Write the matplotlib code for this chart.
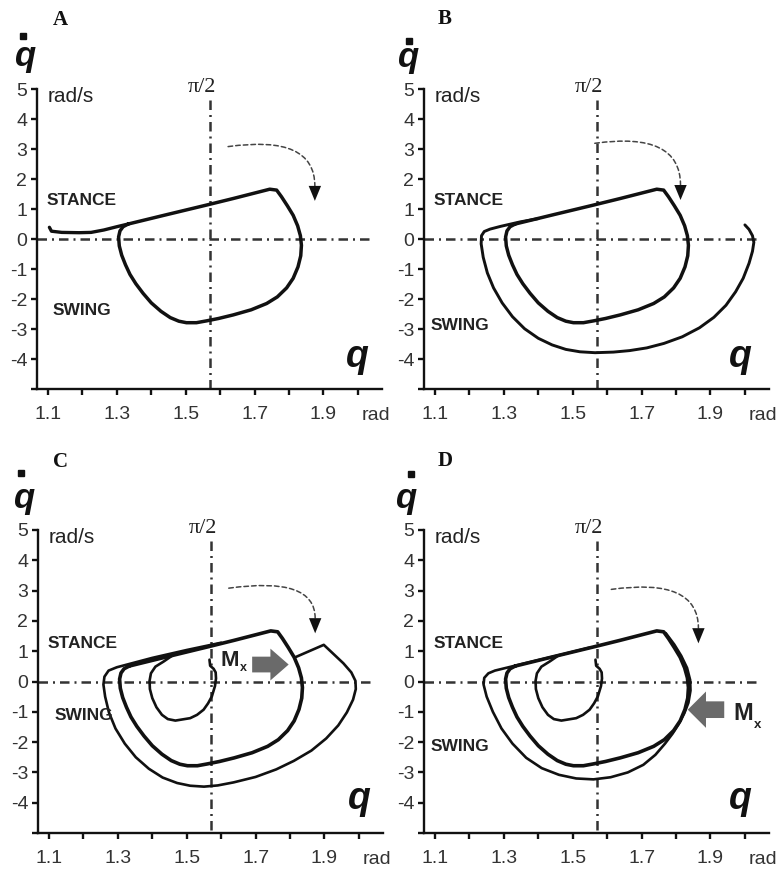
import numpy as np
import matplotlib
matplotlib.use('Agg')
import matplotlib.pyplot as plt
import matplotlib.patches as mpatches
from matplotlib.lines import Line2D

plt.rcParams['font.family'] = ['Liberation Sans', 'DejaVu Sans']

# limit cycle (the thick loop), the same in all four panels
limit_q = [1.333, 1.444, 1.560, 1.638, 1.744, 1.764, 1.778, 1.795, 1.812, 1.825,
           1.833, 1.836, 1.834, 1.826, 1.812, 1.793, 1.766, 1.735, 1.690, 1.638,
           1.595, 1.560, 1.531, 1.502, 1.480, 1.455, 1.428, 1.400, 1.376, 1.355,
           1.338, 1.325, 1.314, 1.307, 1.305, 1.309, 1.318, 1.333]
limit_dq = [0.51, 0.82, 1.14, 1.36, 1.67, 1.64, 1.42, 1.12, 0.80, 0.45,
            0.12, -0.20, -0.55, -0.92, -1.30, -1.62, -1.92, -2.14, -2.35, -2.52,
            -2.64, -2.72, -2.78, -2.78, -2.73, -2.61, -2.40, -2.12, -1.80, -1.48,
            -1.17, -0.85, -0.53, -0.22, 0.08, 0.28, 0.42, 0.51]

# panel A: approach from the left
a_q = [1.104, 1.110, 1.140, 1.190, 1.225, 1.262, 1.300, 1.333]
a_dq = [0.40, 0.27, 0.23, 0.22, 0.23, 0.31, 0.42, 0.51]

# panel B: large outer loop converging to the cycle
b_q = [2.000, 2.012, 2.022, 2.026, 2.022, 2.012, 1.995, 1.973, 1.945, 1.910,
       1.868, 1.818, 1.765, 1.715, 1.665, 1.618, 1.565, 1.521, 1.480, 1.440,
       1.400, 1.360, 1.325, 1.295, 1.270, 1.252, 1.240, 1.234, 1.235, 1.243,
       1.260, 1.290, 1.347, 1.400]
b_dq = [0.48, 0.33, 0.12, -0.10, -0.40, -0.80, -1.30, -1.75, -2.20, -2.60,
        -2.95, -3.25, -3.47, -3.62, -3.71, -3.76, -3.78, -3.75, -3.67, -3.52,
        -3.30, -2.98, -2.58, -2.12, -1.62, -1.12, -0.60, -0.15, 0.12, 0.26,
        0.34, 0.43, 0.58, 0.69]

# panels C and D: start near pi/2 (small loop)
start_q = [1.566, 1.568, 1.578, 1.584, 1.585, 1.582, 1.573, 1.562, 1.549, 1.530,
           1.510, 1.467, 1.445, 1.428, 1.412, 1.400, 1.393, 1.392, 1.396, 1.409,
           1.433, 1.460]
start_dq = [0.72, 0.52, 0.42, 0.30, 0.10, -0.15, -0.49, -0.72, -0.93, -1.10,
            -1.21, -1.29, -1.24, -1.10, -0.85, -0.55, -0.25, 0.02, 0.27, 0.49,
            0.66, 0.87]

# panel C: perturbed loop (positive Mx)
c_q = [1.815, 1.898, 1.927, 1.955, 1.978, 1.990, 1.991, 1.983, 1.965, 1.940,
       1.905, 1.862, 1.811, 1.760, 1.700, 1.636, 1.590, 1.550, 1.510, 1.472,
       1.430, 1.390, 1.352, 1.320, 1.293, 1.274, 1.263, 1.258, 1.261, 1.273,
       1.297, 1.400, 1.500, 1.600]
c_dq = [0.80, 1.21, 0.90, 0.60, 0.30, 0.02, -0.25, -0.60, -1.02, -1.45,
        -1.88, -2.28, -2.62, -2.90, -3.15, -3.33, -3.43, -3.47, -3.44, -3.35,
        -3.17, -2.88, -2.50, -2.05, -1.55, -1.02, -0.50, -0.10, 0.16, 0.36,
        0.47, 0.78, 1.04, 1.28]

# panel D: perturbed loop (negative Mx)
d_q = [1.770, 1.795, 1.815, 1.832, 1.841, 1.842, 1.836, 1.824, 1.808, 1.790,
       1.768, 1.740, 1.705, 1.660, 1.610, 1.560, 1.510, 1.460, 1.410, 1.365,
       1.325, 1.293, 1.268, 1.250, 1.241, 1.243, 1.255, 1.274, 1.350, 1.450,
       1.550]
d_dq = [1.60, 1.22, 0.85, 0.45, 0.05, -0.30, -0.70, -1.05, -1.40, -1.72,
        -2.05, -2.42, -2.75, -3.00, -3.16, -3.23, -3.20, -3.08, -2.86, -2.52,
        -2.05, -1.55, -1.00, -0.50, -0.10, 0.12, 0.27, 0.36, 0.57, 0.84,
        1.12]

x_ticks = [1.1, 1.2, 1.3, 1.4, 1.5, 1.6, 1.7, 1.8, 1.9, 2.0]
x_labels = ['1.1', '', '1.3', '', '1.5', '', '1.7', '', '1.9', '']
y_ticks = [-5, -4, -3, -2, -1, 0, 1, 2, 3, 4, 5]
y_labels = ['', '-4', '-3', '-2', '-1', '0', '1', '2', '3', '4', '5']

W, H = 778, 869
fig = plt.figure(figsize=(W / 100, H / 100), dpi=100)
INK = '#111111'


def fig_text(px, py, s, **kw):
    fig.text(px / W, 1 - py / H, s, **kw)


def setup(ax):
    ax.set_xlim(1.068, 2.07)
    ax.set_ylim(-5, 5)
    ax.patch.set_visible(False)
    for s in ['top', 'right']:
        ax.spines[s].set_visible(False)
    for s in ['left', 'bottom']:
        ax.spines[s].set_linewidth(1.7)
        ax.spines[s].set_color(INK)
    ax.set_xticks(x_ticks)
    ax.set_xticklabels(x_labels)
    ax.set_yticks(y_ticks)
    ax.set_yticklabels(y_labels)
    ax.tick_params(axis='x', length=4, width=1.7, pad=8, labelsize=14,
                   color=INK, labelcolor='#333333')
    ax.tick_params(axis='y', length=4, width=1.7, pad=3, labelsize=14,
                   color=INK, labelcolor='#333333')
    dashdot = (0, (3.8, 2, 0.8, 2))
    ax.plot([1.068, 2.04], [0, 0], ls=dashdot, lw=1.8, color='#333333', zorder=1)
    ax.plot([np.pi / 2, np.pi / 2], [4.65, -5], ls=dashdot, lw=1.8,
            color='#333333', zorder=1)
    ax.text(1.548, 4.9, 'π/2', family='Liberation Serif', fontsize=16,
            ha='center', va='baseline', color='#222222', clip_on=False)
    ax.text(1.099, 4.58, 'rad/s', fontsize=15, ha='left', va='baseline',
            color='#222222')
    ax.text(2.011, -6.02, 'rad', fontsize=14, ha='left', va='baseline',
            color='#333333', clip_on=False)


def turn_arrow(ax, start, tip):
    top = (tip[0], tip[1] + 0.5)
    arc = mpatches.FancyArrowPatch(start, top, arrowstyle='-',
                                   connectionstyle='angle3,angleA=8,angleB=90',
                                   ls=(0, (3, 2)), lw=1.1, color='#444444',
                                   shrinkA=0, shrinkB=0)
    ax.add_patch(arc)
    head = mpatches.Polygon([(tip[0] - 0.018, top[1]), (tip[0] + 0.018, top[1]),
                             tip], closed=True, color=INK, lw=0)
    ax.add_patch(head)


def trace(ax, q, dq, lw):
    ax.plot(q, dq, color=INK, lw=lw, solid_joinstyle='round',
            solid_capstyle='round', zorder=3)


def phase_labels(ax, stance, swing):
    ax.text(stance[0], stance[1], 'STANCE', fontsize=12.5, weight='bold',
            color='#222222')
    ax.text(swing[0], swing[1], 'SWING', fontsize=12.5, weight='bold',
            color='#222222')


axes_pos = {'A': [37 / W, 1 - 389.3 / H, 345 / W, 300 / H],
            'B': [424 / W, 1 - 389.3 / H, 345 / W, 300 / H],
            'C': [38 / W, 1 - 833 / H, 345 / W, 303 / H],
            'D': [424 / W, 1 - 833 / H, 345 / W, 303 / H]}
axs = {k: fig.add_axes(v) for k, v in axes_pos.items()}
for ax in axs.values():
    setup(ax)

# panel A
ax = axs['A']
trace(ax, a_q, a_dq, 2.4)
trace(ax, limit_q, limit_dq, 2.5)
turn_arrow(ax, (1.623, 3.09), (1.875, 1.28))
phase_labels(ax, (1.097, 1.14), (1.114, -2.52))

# panel B
ax = axs['B']
trace(ax, b_q, b_dq, 2.1)
trace(ax, limit_q, limit_dq, 2.5)
turn_arrow(ax, (1.564, 3.2), (1.813, 1.31))
phase_labels(ax, (1.095, 1.14), (1.086, -3.02))

# panel C
ax = axs['C']
trace(ax, start_q, start_dq, 1.9)
trace(ax, c_q, c_dq, 1.9)
trace(ax, limit_q, limit_dq, 2.6)
turn_arrow(ax, (1.622, 3.08), (1.873, 1.59))
ax.add_patch(mpatches.FancyArrow(1.69, 0.56, 0.106, 0, width=0.52, head_width=1.05,
                                 head_length=0.053, length_includes_head=True,
                                 color='#6a6a6a', lw=0, zorder=4))
ax.text(1.598, 0.5, 'M', fontsize=16, weight='bold', color='#222222', zorder=5)
ax.text(1.655, 0.36, 'x', fontsize=9, weight='bold', color='#222222', zorder=5)
phase_labels(ax, (1.097, 1.11), (1.117, -1.26))

# panel D
ax = axs['D']
trace(ax, start_q, start_dq, 1.9)
trace(ax, d_q, d_dq, 1.9)
trace(ax, limit_q, limit_dq, 2.6)
turn_arrow(ax, (1.612, 3.04), (1.865, 1.26))
ax.add_patch(mpatches.FancyArrow(1.94, -0.93, -0.106, 0, width=0.55, head_width=1.2,
                                 head_length=0.053, length_includes_head=True,
                                 color='#6a6a6a', lw=0, zorder=4))
ax.text(1.966, -1.26, 'M', fontsize=17, weight='bold', color='#222222',
        clip_on=False)
ax.text(2.027, -1.54, 'x', fontsize=9.5, weight='bold', color='#222222',
        clip_on=False)
phase_labels(ax, (1.095, 1.11), (1.086, -2.31))

# big q on the abscissa
for k, (qx, qy) in {'A': (1.999, -4.26), 'B': (1.988, -4.25),
                    'C': (2.0, -4.2), 'D': (1.988, -4.2)}.items():
    axs[k].text(qx, qy, 'q', fontsize=27, weight='bold', style='italic',
                ha='center', va='baseline', color=INK, clip_on=False)

# panel letters
for s, (px, py) in {'A': (60, 20), 'B': (445, 19.5), 'C': (61, 462),
                    'D': (445, 461)}.items():
    fig_text(px, py, s, family='Liberation Serif', weight='bold', fontsize=15,
             ha='center', va='center', color=INK)

# q-dot labels on the ordinate
for (qx, qy), (dx, dy) in [((25.8, 66.4), (22.5, 36)), ((408.8, 67), (408.8, 40.8)),
                           ((25, 508), (20.8, 473)), ((407, 508), (410.5, 474))]:
    fig_text(qx, qy, 'q', fontsize=25, weight='bold', style='italic',
             ha='center', va='baseline', color=INK)
    fig.add_artist(Line2D([dx / W], [1 - dy / H], marker='s', ms=4, color=INK,
                          transform=fig.transFigure))

fig.savefig('out.png', dpi=100)
